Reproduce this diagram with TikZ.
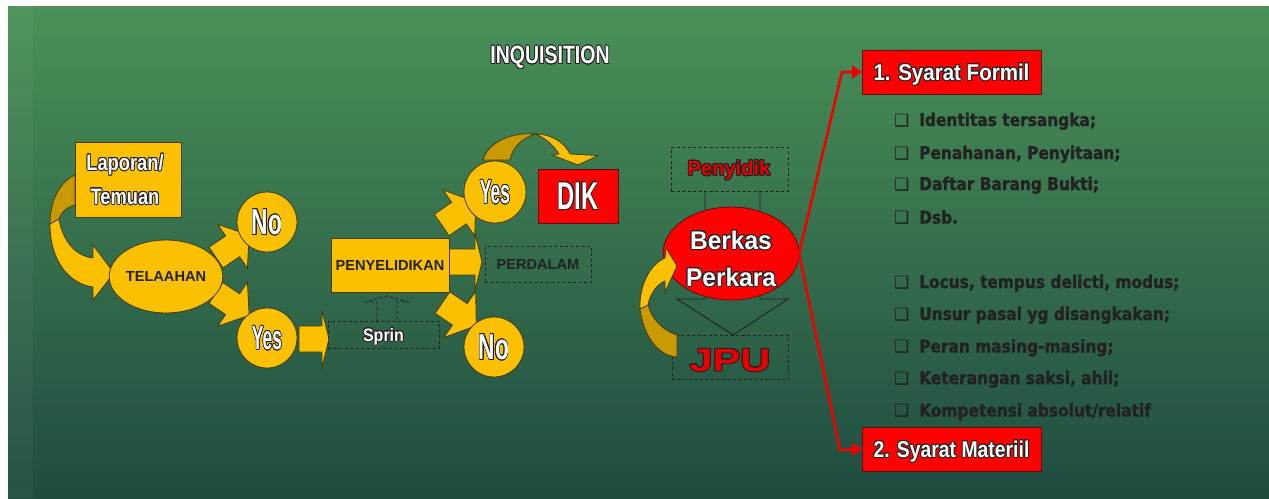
\documentclass[tikz,border=0pt]{standalone}
\usepackage{fontspec}
\usepackage{graphicx}
\usepackage{contour}
\usetikzlibrary{shapes.geometric,arrows.meta}

\newfontfamily\hfont{Liberation Sans}
\newfontfamily\widefont[FakeStretch=1.3]{Liberation Sans}
\newfontfamily\lfont[FakeStretch=0.88, FakeBold=1.3]{DejaVu Sans}
\newfontfamily\bulletfont{DejaVu Sans}

\contourlength{1pt}
\contournumber{16}

\definecolor{ygold}{HTML}{FBC000}
\definecolor{ydark}{HTML}{C99A00}
\definecolor{yline}{HTML}{4A3A00}
\definecolor{rfill}{HTML}{FF0000}
\definecolor{rtext}{HTML}{E80000}
\definecolor{rline}{HTML}{5A1010}
\definecolor{ink}{HTML}{222222}
\definecolor{bgtop}{HTML}{4A9158}
\definecolor{bgmid}{HTML}{376F50}
\definecolor{bgbot}{HTML}{1F4B40}
\definecolor{redline}{HTML}{F20000}

% outlined label text, squeezed horizontally by #1
\newcommand\otxt[2]{\scalebox{#1}[1]{\contour{ink}{#2}}}
% wide block arrow: start, angle, body length, head length, body width, head width
\newcommand\blockarrow[6]{%
  \filldraw[yshape, shift={#1}, rotate=#2]
    (0,{-#5/2}) -- (#3,{-#5/2}) -- (#3,{-#6/2}) -- ({#3+#4},0)
    -- (#3,{#6/2}) -- (#3,{#5/2}) -- (0,{#5/2}) -- cycle;}

\tikzset{
  yshape/.style={fill=ygold, draw=yline, line width=0.8pt},
  ydarkshape/.style={fill=ydark, draw=yline, line width=0.8pt},
  rshape/.style={fill=rfill, draw=rline, line width=0.8pt},
  dbox/.style={draw=ink, dash pattern=on 3pt off 2.5pt, line width=0.9pt},
  shapenode/.style={inner sep=0pt, outer sep=0pt},
  fsz/.style 2 args={font=\hfont\bfseries\fontsize{#1}{#2}\selectfont},
  olabel/.style={text=white, inner sep=0pt, text depth=0pt},
  rlabel/.style={text=rtext, inner sep=0pt, text depth=0pt},
  darklabel/.style={text=ink, font=\hfont\bfseries\fontsize{14.6}{17}\selectfont},
  litem/.style={anchor=base west, text=ink, inner sep=0pt,
    font=\lfont\bfseries\fontsize{17.5}{20}\selectfont},
  bulletmark/.style={anchor=base west, text=ink, inner sep=0pt,
    font=\bulletfont\bfseries\fontsize{17}{17}\selectfont},
  redarrow/.style={draw=redline, line width=2.6pt,
    -{Triangle[length=10pt,width=13pt]}},
  hollowarrow/.style={draw=ink, line width=0.9pt},
}

\begin{document}
\begin{tikzpicture}[x=1pt, y=-1pt]
\useasboundingbox (0,0) rectangle (1269,498);

% background
\fill[white] (0,0) rectangle (1269,498);
\shade[top color=bgtop, middle color=bgmid, bottom color=bgbot] (8,6) rectangle (1269,498);
\fill[white, opacity=0.04] (8,6) rectangle (33,498);

% title
\node[olabel, fsz={25}{25}] (title) at (550,55) {\otxt{0.78}{INQUISITION}};

% ---- curved arrow: Laporan -> Telaahan
\filldraw[ydarkshape] (75,175) .. controls (60,182) and (50,200) .. (50,224)
  -- (59,219) .. controls (62,211) and (67,207) .. (75,205) -- cycle;
\filldraw[yshape] (50,224) .. controls (50,262) and (70,284) .. (93,287)
  -- (93,300) -- (114,273) -- (93,245) -- (93,258)
  .. controls (76,256) and (63,242) .. (59,219) -- cycle;

% block arrows out of Telaahan
\blockarrow{(216,257.5)}{34}{20}{20}{25}{53}
\blockarrow{(216,293)}{-34}{20}{20}{25}{53}
% Yes -> Sprin
\blockarrow{(299,339)}{0}{23}{7}{26}{57}
% block arrows out of Penyelidikan
\blockarrow{(441.7,225)}{34.5}{21}{20}{26}{56}
\blockarrow{(449,262)}{0}{26}{7}{26}{57}
\blockarrow{(442.5,302.5)}{-34.5}{21}{20}{26}{56}

% curved arrow: Yes -> DIK
\filldraw[ydarkshape] (483,160) .. controls (488,142) and (512,132) .. (535,134)
  .. controls (522,138) and (512,148) .. (510,160) -- cycle;
\filldraw[yshape] (535,134) .. controls (552,134) and (565,143) .. (570,154)
  -- (598,155.5) -- (578,165) -- (552,155) -- (559,154)
  .. controls (554,146) and (546,138) .. (535,134) -- cycle;

% left flow nodes
\node[shapenode, yshape, minimum width=106pt, minimum height=75pt] (lapor) at (128.5,179.5) {};
\node[olabel, fsz={22.3}{34}, align=center] (laportext) at (125,179)
  {\otxt{0.82}{Laporan/}\\\otxt{0.82}{Temuan}};
\node[shapenode, yshape, ellipse, minimum width=100pt, minimum height=73pt, darklabel] (telaah) at (166,276.5) {TELAAHAN};
\node[shapenode, yshape, circle, minimum size=60pt, olabel, fsz={36}{36}] (no1) at (267,222) {\otxt{0.63}{No}};
\node[shapenode, yshape, circle, minimum size=60pt, olabel, fsz={33.5}{33.5}] (yes1) at (267,338) {\otxt{0.52}{Yes}};

% Sprin and Penyelidikan
\node[shapenode, dbox, minimum width=111pt, minimum height=27pt, olabel, fsz={18}{18}] (sprin) at (383.5,334.5) {\otxt{0.89}{Sprin}};
\draw[dbox] (sprin.north -| 377,0) -- (377,302) -- (366,302) -- (387,296) -- (408,302) -- (397,302) -- (sprin.north -| 397,0);
\node[shapenode, yshape, minimum width=118pt, minimum height=54pt, darklabel] (penyel) at (390,265) {PENYELIDIKAN};

% outcomes of Penyelidikan
\node[shapenode, yshape, circle, minimum size=62pt, olabel, fsz={33.5}{33.5}] (yes2) at (495,192) {\otxt{0.52}{Yes}};
\node[shapenode, dbox, minimum width=106pt, minimum height=36pt, darklabel] (perdalam) at (538,264) {PERDALAM};
\node[shapenode, yshape, circle, minimum size=60pt, olabel, fsz={36}{36}] (no2) at (494,347) {\otxt{0.63}{No}};
\node[shapenode, rshape, minimum width=80pt, minimum height=54pt, olabel, fsz={38.7}{38.7}] (dik) at (578,196) {\otxt{0.61}{DIK}};

% Penyidik -> Berkas Perkara -> JPU
\node[shapenode, dbox, minimum width=117pt, minimum height=44pt] (penyidik) at (729.5,169) {};
\node[rlabel, fsz={20.5}{20.5}] (penyidiktext) at (729,168) {\otxt{0.98}{Penyidik}};
\draw[hollowarrow] (penyidik.south -| 705,0) -- (705,299) -- (677,299) -- (733,335)
  -- (788,299) -- (760,299) -- (penyidik.south -| 760,0);
\node[shapenode, dbox, minimum width=116pt, minimum height=44pt] (jpu) at (730,357) {};
\node[rlabel, font=\widefont\bfseries\fontsize{32}{32}\selectfont] (jputext) at (730,360) {\contour{ink}{JPU}};
\node[shapenode, rshape, ellipse, minimum width=136pt, minimum height=93pt] (berkas) at (731,253.5) {};

% curved arrow: JPU -> Berkas Perkara
\filldraw[ydarkshape] (640,309) .. controls (644,339) and (660,356) .. (677,357)
  -- (677,335) .. controls (664,331) and (652,320) .. (648,305) -- cycle;
\filldraw[yshape] (640,309) .. controls (639,286) and (650,264) .. (665,258)
  -- (666,248) -- (677,266) -- (665,292) -- (665,281)
  .. controls (657,284) and (650,294) .. (648,305) -- cycle;

\node[olabel, fsz={25.5}{25.5}] (berkas1) at (731,240) {\otxt{0.96}{Berkas}};
\node[olabel, fsz={25.5}{25.5}] (berkas2) at (731,277) {\otxt{0.96}{Perkara}};

% requirement boxes
\node[shapenode, rshape, minimum width=179pt, minimum height=44pt, olabel, fsz={22.8}{22.8}] (formil) at (951.5,72) {\otxt{0.9}{1. Syarat Formil}};
\node[shapenode, rshape, minimum width=179pt, minimum height=44pt, olabel, fsz={22.8}{22.8}] (materiil) at (951.5,449) {\otxt{0.85}{2. Syarat Materiil}};

\coordinate (rc1) at (842,72);
\coordinate (rc2) at (840,450);
\draw[redarrow] (berkas.east) -- (rc1) -- (formil.west);
\draw[redarrow] (berkas.east) -- (rc2) -- (materiil.west);

% checklist
\foreach \yy/\txt [count=\i] in {126/{Identitas tersangka;}, 159/{Penahanan, Penyitaan;}, 190/{Daftar Barang Bukti;}, 223.5/{Dsb.},
    288/{Locus, tempus delicti, modus;}, 320/{Unsur pasal yg disangkakan;}, 352.5/{Peran masing-masing;},
    384/{Keterangan saksi, ahli;}, 416.5/{Kompetensi absolut/relatif}}{
  \node[bulletmark] (bul\i) at (894,\yy) {❑};
  \node[litem] (item\i) at (919,\yy) {\txt};
}
\end{tikzpicture}
\end{document}
